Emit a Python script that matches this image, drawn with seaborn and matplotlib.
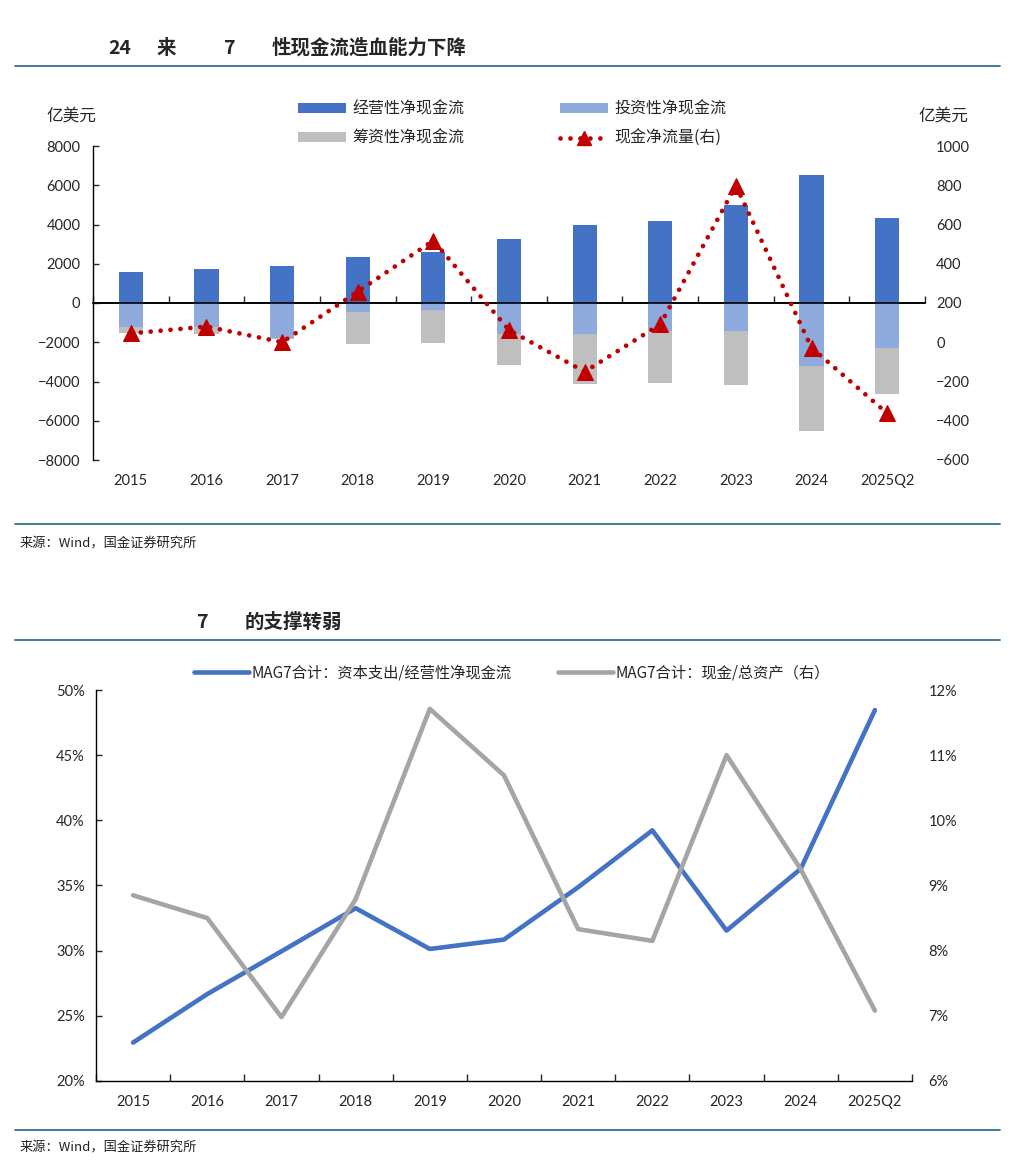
import matplotlib
matplotlib.use("Agg")
import numpy as np
import pandas as pd
import matplotlib.pyplot as plt
import seaborn as sns
from matplotlib.patches import Patch
from matplotlib.lines import Line2D
from matplotlib.ticker import FuncFormatter

# ---- data ----
periods = ["2015", "2016", "2017", "2018", "2019", "2020",
           "2021", "2022", "2023", "2024", "2025Q2"]

# chart 1: MAG7 cash flows, 亿美元
operating_cf = [1580, 1720, 1870, 2360, 2600, 3250, 3970, 4190, 4990, 6520, 4310]
investing_cf = [-1220, -1220, -1800, -460, -375, -1600, -1600, -1430, -1430, -3210, -2280]
financing_cf = [-290, -380, -50, -1610, -1680, -1540, -2510, -2660, -2750, -3300, -2360]
net_cf = [45, 80, 0, 258, 518, 62, -150, 91, 798, -28, -362]

# chart 2: MAG7 ratios, %
capex_to_ocf = [22.95, 26.67, 29.95, 33.26, 30.13, 30.85, 34.87, 39.23, 31.54, 36.28, 48.46]
cash_to_assets = [8.85, 8.50, 6.98, 8.79, 11.71, 10.69, 8.33, 8.15, 11.00, 9.25, 7.08]

# ---- style ----
sns.set_style("white")
plt.rcParams["font.family"] = ["Lato", "Noto Sans CJK SC", "DejaVu Sans"]
plt.rcParams["axes.unicode_minus"] = True
CJK = ["Noto Sans CJK SC", "DejaVu Sans"]

C_OP = "#4472C4"
C_INV = "#8FAADC"
C_FIN = "#BFBFBF"
C_NET = "#C00000"
C_GREY = "#A5A5A5"
C_RULE = "#31708F"
TICK_FS = 10.5

W, H = 1024, 1167
fig = plt.figure(figsize=(W / 100, H / 100), dpi=100)


def fx(px):
    return px / W


def fy(py):
    return 1 - py / H


def rule(py):
    fig.add_artist(Line2D([fx(15), fx(1000)], [fy(py), fy(py)],
                          transform=fig.transFigure, color=C_RULE, lw=1.3))


# ---- headers / footers ----
for txt, x in [("24", 108), ("来", 157), ("7", 224), ("性现金流造血能力下降", 272)]:
    fig.text(fx(x), fy(48), txt, family=CJK, fontsize=14, fontweight="bold",
             va="center", ha="left")
rule(66)
rule(524)
fig.text(fx(20), fy(544), "来源：Wind，国金证券研究所", family=CJK, fontsize=9.5,
         va="center", ha="left", color="#222222")

for txt, x in [("7", 197), ("的支撑转弱", 245)]:
    fig.text(fx(x), fy(622), txt, family=CJK, fontsize=14, fontweight="bold",
             va="center", ha="left")
rule(640)
rule(1130)
fig.text(fx(20), fy(1148), "来源：Wind，国金证券研究所", family=CJK, fontsize=9.5,
         va="center", ha="left", color="#222222")

# ---- chart 1: stacked cash flow bars + net cash flow ----
df1 = pd.DataFrame({
    "period": periods,
    "operating": operating_cf,
    "investing": investing_cf,
    "financing": financing_cf,
    "net": net_cf,
})
df1["inv_fin"] = df1["investing"] + df1["financing"]

ax1 = fig.add_axes([fx(93), fy(460), fx(925) - fx(93), fy(146) - fy(460)])
bw = 0.32
for col, colour in [("operating", C_OP), ("inv_fin", C_FIN), ("investing", C_INV)]:
    sns.barplot(data=df1, x="period", y=col, color=colour, width=bw,
                saturation=1, errorbar=None, linewidth=0, edgecolor="none", ax=ax1)

ax1.axhline(0, color="black", lw=1.2, zorder=4)
ax1.set_xlim(-0.5, len(periods) - 0.5)
ax1.set_ylim(-8000, 8000)
ax1.set_yticks(np.arange(-8000, 8001, 2000))
ax1.set_xlabel("")
ax1.set_ylabel("")
for s in ["top", "right", "bottom"]:
    ax1.spines[s].set_visible(False)
ax1.spines["left"].set_color("black")
ax1.spines["left"].set_linewidth(1.0)
ax1.tick_params(axis="y", direction="in", length=4, width=1, pad=9,
                labelsize=TICK_FS, left=True)
ax1.tick_params(axis="x", length=0, pad=10, labelsize=TICK_FS)

# zero line with category boundary ticks
zero = ax1.secondary_xaxis(0.5)
zero.set_xticks(np.arange(-0.5, len(periods), 1.0))
zero.tick_params(axis="x", direction="out", length=5, width=1,
                 labelbottom=False, labeltop=False)
for s in zero.spines.values():
    s.set_color("black")
    s.set_linewidth(1.2)

ax2 = ax1.twinx()
sns.lineplot(x=np.arange(len(periods)), y=df1["net"], ax=ax2, color=C_NET,
             linestyle=(0, (0.01, 2.1)), lw=3.4, dash_capstyle="round",
             marker="^", markersize=11, markeredgecolor=C_NET,
             markerfacecolor=C_NET)
ax2.set_ylim(-600, 1000)
ax2.set_yticks(np.arange(-600, 1001, 200))
ax2.set_ylabel("")
for s in ax2.spines.values():
    s.set_visible(False)
ax2.tick_params(axis="y", length=0, pad=8, labelsize=TICK_FS)
ax2.set_xlim(-0.5, len(periods) - 0.5)

fig.text(fx(71), fy(116), "亿美元", family=CJK, fontsize=12, ha="center", va="center")
fig.text(fx(943), fy(116), "亿美元", family=CJK, fontsize=12, ha="center", va="center")

h_op = Patch(facecolor=C_OP, edgecolor="none")
h_fin = Patch(facecolor=C_FIN, edgecolor="none")
h_inv = Patch(facecolor=C_INV, edgecolor="none")
h_net = Line2D([], [], color=C_NET, linestyle=(0, (0.01, 2.1)), lw=3.4,
               dash_capstyle="round", marker="^", markersize=10)
ax1.legend([h_op, h_fin, h_inv, h_net],
           ["经营性净现金流", "筹资性净现金流", "投资性净现金流", "现金净流量(右)"],
           ncol=2, loc="center", bbox_to_anchor=(fx(512), fy(124)),
           bbox_transform=fig.transFigure, frameon=False,
           prop={"family": CJK, "size": 11.5}, handlelength=3.0,
           handleheight=0.6, handletextpad=0.4, columnspacing=6.0,
           labelspacing=0.75)

# ---- chart 2: MAG7 ratios ----
df2 = pd.DataFrame({
    "period": periods,
    "capex_ocf": capex_to_ocf,
    "cash_assets": cash_to_assets,
})
xi = np.arange(len(periods))

ax3 = fig.add_axes([fx(96), fy(1081), fx(912) - fx(96), fy(690) - fy(1081)])
sns.lineplot(x=xi, y=df2["capex_ocf"], ax=ax3, color=C_OP, lw=3.3)
ax3.set_xlim(-0.5, len(periods) - 0.5)
ax3.set_ylim(20, 50)
ax3.set_yticks(np.arange(20, 51, 5))
ax3.yaxis.set_major_formatter(FuncFormatter(lambda v, _: f"{v:.0f}%"))
ax3.set_xticks(xi)
ax3.set_xticklabels(periods)
ax3.set_xticks(np.arange(-0.5, len(periods), 1.0), minor=True)
ax3.set_xlabel("")
ax3.set_ylabel("")
for s in ["top", "right"]:
    ax3.spines[s].set_visible(False)
for s in ["left", "bottom"]:
    ax3.spines[s].set_color("black")
    ax3.spines[s].set_linewidth(1.0)
ax3.tick_params(axis="y", direction="in", length=4, width=1, pad=8,
                labelsize=TICK_FS, left=True)
ax3.tick_params(axis="x", which="major", length=0, pad=10, labelsize=TICK_FS)
ax3.tick_params(axis="x", which="minor", direction="in", length=5, width=1,
                bottom=True)

ax4 = ax3.twinx()
sns.lineplot(x=xi, y=df2["cash_assets"], ax=ax4, color=C_GREY, lw=3.3)
ax4.set_ylim(6, 12)
ax4.set_yticks(np.arange(6, 12.1, 1))
ax4.yaxis.set_major_formatter(FuncFormatter(lambda v, _: f"{v:.0f}%"))
ax4.set_ylabel("")
for s in ax4.spines.values():
    s.set_visible(False)
ax4.tick_params(axis="y", length=0, pad=12, labelsize=TICK_FS)
ax4.set_xlim(-0.5, len(periods) - 0.5)

ax3.legend([Line2D([], [], color=C_OP, lw=3.3), Line2D([], [], color=C_GREY, lw=3.3)],
           ["MAG7合计：资本支出/经营性净现金流", "MAG7合计：现金/总资产（右）"],
           ncol=2, loc="center", bbox_to_anchor=(fx(512), fy(673)),
           bbox_transform=fig.transFigure, frameon=False,
           prop={"family": CJK, "size": 11}, handlelength=3.6,
           handletextpad=0.2, columnspacing=3.0)

fig.savefig("out.png", dpi=100)
